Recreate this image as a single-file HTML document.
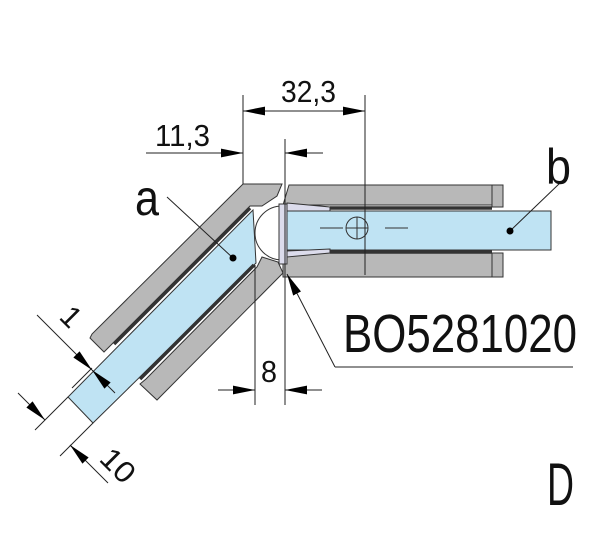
<!DOCTYPE html>
<html><head><meta charset="utf-8"><style>
html,body{margin:0;padding:0;background:#fff;width:600px;height:540px;overflow:hidden}
svg{display:block}
text{font-family:"Liberation Sans",sans-serif;fill:#111}
</style></head><body>
<svg width="600" height="540" viewBox="0 0 600 540" xmlns="http://www.w3.org/2000/svg">
<defs>
<marker id="ar" viewBox="0 0 10 4" refX="10" refY="2" markerWidth="22" markerHeight="9" markerUnits="userSpaceOnUse" orient="auto">
<path d="M0,0 L10,2 L0,4 z" fill="#000"/></marker>
</defs>
<g stroke="#333" stroke-width="1">
<polygon points="243,184 282,184 277,196 262,206 250,206 114,342 104,352 90,338 92,334" fill="#b8b8b8"/>
<polygon points="257,267 262,257 278,262 283,273 157,400 140,384 146,379" fill="#b8b8b8"/>
<polygon points="253,210 256,263 93,423 68,397" fill="#bfe3f3"/>
<polygon points="289,185 492,185 492,205 283,205" fill="#b8b8b8"/>
<rect x="492" y="185" width="11" height="22" fill="#b8b8b8"/>
<rect x="283" y="253" width="209" height="24" fill="#b8b8b8"/>
<rect x="492" y="253" width="11" height="24" fill="#b8b8b8"/>
<rect x="284" y="211" width="267" height="39" fill="#bfe3f3"/>
</g>
<g stroke="#333" stroke-width="3.5">
<line x1="250" y1="208" x2="114" y2="344"/>
<line x1="254" y1="265" x2="140" y2="379"/>
<line x1="330" y1="208" x2="492" y2="208"/>
<line x1="330" y1="252" x2="492" y2="252"/>
</g>
<g stroke="#333" stroke-width="1" fill="#dcdcec">
<path d="M282,206 A24,24 0 0 0 282,260" fill="none"/>
<rect x="279" y="204" width="8" height="60"/>
<polygon points="287,203 330,207 330,211 287,211"/>
<polygon points="287,251 330,249 330,253 287,257"/>
</g>
<g stroke="#333" stroke-width="1" fill="none">
<line x1="320" y1="228" x2="343" y2="228"/><line x1="385" y1="228" x2="408" y2="228"/>
<circle cx="357" cy="228" r="11"/><line x1="346" y1="228" x2="368" y2="228"/><line x1="357" y1="217" x2="357" y2="239"/>
</g>
<g stroke="#222" stroke-width="1" fill="none">
<line x1="243" y1="95" x2="243" y2="184"/>
<line x1="365" y1="95" x2="365" y2="275"/>
<line x1="285" y1="139" x2="285" y2="405"/>
<line x1="255" y1="265" x2="255" y2="405"/>
<line x1="304" y1="111" x2="243" y2="111" marker-end="url(#ar)"/>
<line x1="304" y1="111" x2="365" y2="111" marker-end="url(#ar)"/>
<line x1="146" y1="153" x2="243" y2="153" marker-end="url(#ar)"/>
<line x1="323" y1="153" x2="285" y2="153" marker-end="url(#ar)"/>
<line x1="218" y1="390" x2="255" y2="390" marker-end="url(#ar)"/>
<line x1="322" y1="390" x2="285" y2="390" marker-end="url(#ar)"/>
<line x1="92" y1="368" x2="72" y2="388"/>
<line x1="37" y1="315" x2="92" y2="370" marker-end="url(#ar)"/>
<line x1="115" y1="393" x2="92" y2="370" marker-end="url(#ar)"/>
<line x1="68" y1="397" x2="35" y2="430"/>
<line x1="93" y1="423" x2="60" y2="456"/>
<line x1="18" y1="393" x2="45" y2="420" marker-end="url(#ar)"/>
<line x1="108" y1="483" x2="70" y2="445" marker-end="url(#ar)"/>
<line x1="167" y1="197" x2="233" y2="258"/>
<line x1="560" y1="183" x2="510" y2="231"/>
<polyline points="335,367 573,367"/>
<line x1="335" y1="367" x2="287" y2="274" marker-end="url(#ar)"/>
</g>
<circle cx="233" cy="258" r="3.5" fill="#000"/>
<circle cx="510" cy="231" r="3.5" fill="#000"/>
<text x="281" y="102" font-size="31" textLength="55" lengthAdjust="spacingAndGlyphs">32,3</text>
<text x="155" y="146" font-size="31" textLength="55" lengthAdjust="spacingAndGlyphs">11,3</text>
<text x="261" y="382" font-size="31" textLength="16" lengthAdjust="spacingAndGlyphs">8</text>
<text x="343" y="352" font-size="54" textLength="234" lengthAdjust="spacingAndGlyphs">BO5281020</text>
<text x="135" y="215" font-size="50" textLength="24" lengthAdjust="spacingAndGlyphs">a</text>
<text x="546" y="184" font-size="50" textLength="25" lengthAdjust="spacingAndGlyphs">b</text>
<text x="547" y="505" font-size="60" textLength="27" lengthAdjust="spacingAndGlyphs">D</text>
<text font-size="30" transform="translate(58,318) rotate(45)">1</text>
<text font-size="30" transform="translate(98,460) rotate(45)" textLength="36" lengthAdjust="spacingAndGlyphs">10</text>
</svg>
</body></html>
